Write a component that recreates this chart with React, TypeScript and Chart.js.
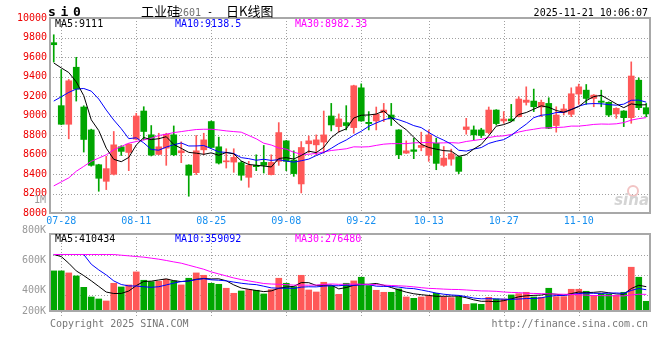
import React, { useEffect, useRef } from 'react';
import { Chart, registerables } from 'chart.js';

Chart.register(...registerables);

// ---------------- data ----------------
const DATES = [
  '07-25', '07-28', '07-29', '07-30', '07-31', '08-01', '08-04', '08-05', '08-06', '08-07',
  '08-08', '08-11', '08-12', '08-13', '08-14', '08-15', '08-18', '08-19', '08-20', '08-21',
  '08-22', '08-25', '08-26', '08-27', '08-28', '08-29', '09-01', '09-02', '09-03', '09-04',
  '09-05', '09-08', '09-09', '09-10', '09-11', '09-12', '09-15', '09-16', '09-17', '09-18',
  '09-19', '09-22', '09-23', '09-24', '09-25', '09-26', '09-29', '09-30', '10-09', '10-10',
  '10-13', '10-14', '10-15', '10-16', '10-17', '10-20', '10-21', '10-22', '10-23', '10-24',
  '10-27', '10-28', '10-29', '10-30', '10-31', '11-03', '11-04', '11-05', '11-06', '11-07',
  '11-10', '11-11', '11-12', '11-13', '11-14', '11-17', '11-18', '11-19', '11-20', '11-21',
];
const TICK_DATES = ['07-28', '08-11', '08-25', '09-08', '09-22', '10-13', '10-27', '11-10'];

const OPEN = [
  9747, 9101, 8910, 9495, 9087, 8852, 8495, 8325, 8397, 8679,
  8621, 8757, 9046, 8802, 8601, 8665, 8802, 8618, 8492, 8414,
  8648, 8938, 8679, 8525, 8522, 8516, 8366, 8489, 8519, 8393,
  8530, 8740, 8543, 8298, 8710, 8699, 8727, 8995, 8886, 8927,
  8876, 9284, 8930, 8944, 9029, 9005, 8852, 8614, 8648, 8672,
  8591, 8716, 8489, 8553, 8577, 8856, 8852, 8852, 8825, 9056,
  8944, 8964, 8988, 9135, 9148, 9087, 9124, 8897, 9033, 9012,
  9220, 9260, 9175, 9148, 9135, 9016, 9046, 8978, 9362, 9080,
];
const HIGH = [
  9828, 9471, 9370, 9597, 9100, 8860, 8500, 8581, 8836, 8690,
  8712, 9022, 9090, 8897, 8818, 8818, 8893, 8730, 8495, 8795,
  8818, 8944, 8778, 8659, 8659, 8530, 8530, 8597, 8693, 8597,
  8927, 8745, 8638, 8733, 8790, 8801, 9046, 9124, 9016, 9101,
  9311, 9325, 9040, 9087, 9124, 9124, 8855, 8740, 8767, 8829,
  8852, 8767, 8682, 8655, 8580, 8971, 8893, 8869, 9087, 9060,
  9040, 9114, 9192, 9294, 9271, 9158, 9182, 9090, 9114, 9284,
  9322, 9318, 9215, 9260, 9140, 9080, 9050, 9550, 9386, 9124,
];
const LOW = [
  9549, 8905, 8761, 9148, 8625, 8480, 8223, 8240, 8390, 8590,
  8434, 8750, 8750, 8585, 8597, 8489, 8587, 8516, 8172, 8393,
  8597, 8665, 8502, 8461, 8417, 8336, 8264, 8434, 8410, 8390,
  8489, 8434, 8376, 8206, 8618, 8597, 8614, 8842, 8829, 8852,
  8818, 8940, 8852, 8852, 8937, 8897, 8557, 8610, 8557, 8638,
  8530, 8444, 8478, 8489, 8404, 8808, 8750, 8774, 8812, 8903,
  8920, 8940, 8985, 9107, 9040, 8988, 8865, 8829, 9005, 8988,
  9114, 9114, 9090, 9090, 8988, 8971, 8886, 8920, 9060, 8988,
];
const CLOSE = [
  9726, 8910, 9356, 9271, 8754, 8489, 8356, 8455, 8699, 8632,
  8706, 8995, 8836, 8594, 8679, 8808, 8597, 8638, 8387, 8638,
  8750, 8672, 8512, 8530, 8570, 8387, 8489, 8475, 8489, 8519,
  8825, 8530, 8404, 8672, 8740, 8750, 8801, 8903, 8965, 8897,
  9305, 8944, 8917, 9012, 9056, 8965, 8597, 8638, 8632, 8693,
  8801, 8509, 8563, 8608, 8427, 8883, 8801, 8795, 9056, 8917,
  8964, 8944, 9169, 9158, 9090, 9135, 8869, 9005, 9067, 9223,
  9294, 9175, 9209, 9135, 9005, 9073, 8978, 9405, 9080, 9016,
];
const VOLUME = [
  677000, 677000, 643000, 592000, 400000, 237000, 203000, 169000, 468000, 406000,
  440000, 660000, 519000, 496000, 502000, 536000, 508000, 440000, 553000, 643000,
  603000, 468000, 451000, 384000, 299000, 338000, 361000, 350000, 288000, 361000,
  553000, 468000, 412000, 603000, 355000, 321000, 485000, 423000, 282000, 468000,
  508000, 570000, 429000, 350000, 316000, 316000, 372000, 237000, 214000, 237000,
  254000, 299000, 237000, 226000, 243000, 113000, 124000, 113000, 231000, 203000,
  203000, 271000, 293000, 316000, 237000, 231000, 384000, 243000, 243000, 367000,
  367000, 333000, 265000, 293000, 282000, 265000, 316000, 739000, 570000, 164000,
];

// moving-average values visible before enough in-window history exists
const MA5_HEAD = [9539, 9488, 9441, 9345];
const MA10_HEAD = [9148, 9192, 9237, 9271, 9277, 9250, 9169, 9056, 8954];
const MA30_HEAD = [
  8278, 8319, 8360, 8428, 8478, 8530, 8563, 8597, 8648, 8682,
  8716, 8733, 8750, 8767, 8795, 8808, 8825, 8835, 8846, 8856,
  8859, 8859, 8852, 8842, 8835, 8829, 8795, 8761, 8716,
];
const VMA5_HEAD = [954000, 919000, 806000, 677000];
const VMA10_HEAD = [954000, 954000, 954000, 954000, 954000, 790000, 694000, 609000, 508000];
const VMA30_HEAD = [
  954000, 954000, 954000, 954000, 954000, 954000, 954000, 954000, 954000, 942000,
  931000, 920000, 909000, 892000, 875000, 853000, 829000, 807000, 773000, 739000,
  705000, 660000, 626000, 592000, 558000, 531000, 508000, 486000, 464000,
];

const PRICE_MIN = 8000;
const PRICE_MAX = 10000;
const PRICE_STEP = 200;
const VOL_MAX = 1300000;
const VOL_GRID = [270000, 605000, 940000];
const VOL_AXIS_VALUES = [1000000, 800000, 600000, 400000, 200000];
const VOL_AXIS_LABELS = ['1M', '800K', '600K', '400K', '200K'];
const VOL_AXIS_RANGE = [260000, 773333];

const PRICE_MA_TEXT = ['MA5:9111', 'MA10:9138.5', 'MA30:8982.33'];
const VOL_MA_TEXT = ['MA5:410434', 'MA10:359092', 'MA30:276480'];
const TITLE_SYMBOL = ['s', 'i', '0'];
const TITLE_NAME = '工业硅';
const TITLE_CODE = '2601';
const TITLE_DASH = '-';
const TITLE_KIND = '日K线图';
const TIMESTAMP = '2025-11-21 10:06:07';
const COPYRIGHT = 'Copyright 2025 SINA.COM';
const URL_TEXT = 'http://finance.sina.com.cn';

// ---------------- style ----------------
const MONO = '"DejaVu Sans Mono", "Liberation Mono", monospace';
const CJK = '"Noto Sans CJK SC", "Noto Sans", sans-serif';
const RED = '#ff5858';
const GREEN = '#00a600';
const MA_COLORS = ['#000000', '#0000ff', '#ff00ff'];
const GRID = '#a0a0a0';
const FRAME = '#a8a8a8';
const DATE_COLOR = '#1890f0';

function movingAvg(values: number[], n: number, head: number[]) {
  return values.map((_, i) => {
    if (i < head.length) return head[i];
    let s = 0;
    for (let k = i - n + 1; k <= i; k++) s += values[k];
    return s / n;
  });
}

const TICK_SET = new Set(TICK_DATES);
const candleColors = CLOSE.map((c, i) => (c >= OPEN[i] ? RED : GREEN));

// dotted grid drawn from the scales' own tick positions
function drawDottedGrid(chart: any, yValues: number[], extendBottom: number) {
  const { ctx, chartArea: a } = chart;
  const xs = chart.scales.x;
  const ys = chart.scales.y;
  ctx.save();
  ctx.strokeStyle = GRID;
  ctx.lineWidth = 1;
  ctx.setLineDash([1, 2]);
  yValues.forEach((v) => {
    const y = Math.round(ys.getPixelForValue(v)) + 0.5;
    ctx.beginPath();
    ctx.moveTo(a.left, y);
    ctx.lineTo(a.right, y);
    ctx.stroke();
  });
  DATES.forEach((d, i) => {
    if (!TICK_SET.has(d)) return;
    const x = Math.round(xs.getPixelForValue(i)) + 0.5;
    ctx.beginPath();
    ctx.moveTo(x, a.top);
    ctx.lineTo(x, a.bottom + extendBottom);
    ctx.stroke();
  });
  ctx.restore();
}

function xScale(showLabels: boolean, height: number) {
  return {
    offset: true,
    grid: { display: false, drawTicks: false },
    border: { display: false },
    ticks: {
      display: showLabels,
      autoSkip: false,
      maxRotation: 0,
      minRotation: 0,
      padding: 2,
      color: DATE_COLOR,
      font: { family: MONO, size: 10 },
      callback: (v: any) => (TICK_SET.has(DATES[v]) ? DATES[v] : ''),
    },
    afterFit: (s: any) => {
      s.height = height;
    },
  };
}

function lineDs(data: number[], color: string) {
  return {
    type: 'line' as const,
    data,
    borderColor: color,
    backgroundColor: color,
    borderWidth: 1,
    pointRadius: 0,
    tension: 0,
    fill: false,
    order: 0,
  };
}

export default function App() {
  const priceRef = useRef<HTMLCanvasElement | null>(null);
  const volRef = useRef<HTMLCanvasElement | null>(null);

  useEffect(() => {
    const ma5 = movingAvg(CLOSE, 5, MA5_HEAD);
    const ma10 = movingAvg(CLOSE, 10, MA10_HEAD);
    const ma30 = movingAvg(CLOSE, 30, MA30_HEAD);
    const vma5 = movingAvg(VOLUME, 5, VMA5_HEAD);
    const vma10 = movingAvg(VOLUME, 10, VMA10_HEAD);
    const vma30 = movingAvg(VOLUME, 30, VMA30_HEAD);

    const bodies = OPEN.map((o, i) => [Math.min(o, CLOSE[i]), Math.max(o, CLOSE[i])]);
    const wicks = LOW.map((l, i) => [l, HIGH[i]]);

    const priceDecor = {
      id: 'priceDecor',
      beforeDatasetsDraw(chart: any) {
        const { ctx, chartArea: a } = chart;
        const yTicks = chart.scales.y.ticks.map((t: any) => t.value);
        drawDottedGrid(chart, yTicks, 0);
        ctx.save();
        // sina watermark
        ctx.strokeStyle = '#f2c4c4';
        ctx.lineWidth = 2;
        ctx.beginPath();
        ctx.arc(a.right - 17, a.bottom - 22, 5, 0, Math.PI * 2);
        ctx.stroke();
        ctx.fillStyle = '#d4d4d4';
        ctx.font = 'italic bold 15px "DejaVu Sans", sans-serif';
        ctx.textAlign = 'right';
        ctx.textBaseline = 'alphabetic';
        ctx.fillText('sina', a.right - 1, a.bottom - 8);
        ctx.restore();
      },
      afterDraw(chart: any) {
        const { ctx, chartArea: a } = chart;
        ctx.save();
        ctx.strokeStyle = FRAME;
        ctx.lineWidth = 2;
        ctx.strokeRect(a.left, a.top, a.right - a.left, a.bottom - a.top);

        ctx.font = `10px ${MONO}`;
        ctx.textBaseline = 'middle';
        ctx.textAlign = 'left';
        PRICE_MA_TEXT.forEach((t, k) => {
          ctx.fillStyle = MA_COLORS[k];
          ctx.fillText(t, a.left + 5 + k * 120, a.top + 6);
        });

        ctx.textBaseline = 'alphabetic';
        ctx.fillStyle = '#000';
        ctx.font = `bold 13px ${MONO}`;
        TITLE_SYMBOL.forEach((ch, k) => {
          ctx.fillText(ch, 48 + k * 12.5, 16);
        });

        ctx.font = `13px ${CJK}`;
        ctx.fillText(TITLE_NAME, 141, 16);
        ctx.fillStyle = '#707070';
        ctx.font = `10px ${MONO}`;
        ctx.fillText(TITLE_CODE, 177, 16);
        ctx.fillStyle = '#000';
        ctx.fillText(TITLE_DASH, 207, 15);
        ctx.font = `13px ${CJK}`;
        ctx.fillText(TITLE_KIND, 226, 16);

        ctx.font = `10px ${MONO}`;
        ctx.textAlign = 'right';
        ctx.fillText(TIMESTAMP, 648, 16);
        ctx.restore();
      },
    };

    const volDecor = {
      id: 'volDecor',
      beforeDatasetsDraw(chart: any) {
        drawDottedGrid(chart, VOL_GRID, 7);
      },
      afterDraw(chart: any) {
        const { ctx, chartArea: a } = chart;
        const yl = chart.scales.yl;
        ctx.save();
        ctx.strokeStyle = FRAME;
        ctx.lineWidth = 2;
        ctx.strokeRect(a.left, a.top, a.right - a.left, a.bottom - a.top);

        ctx.font = `10px ${MONO}`;
        ctx.textBaseline = 'middle';
        ctx.textAlign = 'left';
        VOL_MA_TEXT.forEach((t, k) => {
          ctx.fillStyle = MA_COLORS[k];
          ctx.fillText(t, a.left + 5 + k * 120, a.top + 5);
        });

        ctx.fillStyle = '#999999';
        ctx.textAlign = 'right';
        VOL_AXIS_VALUES.forEach((v, k) => {
          const y = Math.min(yl.getPixelForValue(v), a.bottom);
          ctx.fillText(VOL_AXIS_LABELS[k], a.left - 4, y);
        });

        ctx.fillStyle = '#777777';
        ctx.textAlign = 'left';
        ctx.fillText(COPYRIGHT, a.left, a.bottom + 13);
        ctx.textAlign = 'right';
        ctx.fillText(URL_TEXT, a.right - 2, a.bottom + 13);
        ctx.restore();
      },
    };

    const priceChart = new Chart(priceRef.current as HTMLCanvasElement, {
      type: 'bar',
      data: {
        labels: DATES,
        datasets: [
          lineDs(ma5, MA_COLORS[0]),
          lineDs(ma10, MA_COLORS[1]),
          lineDs(ma30, MA_COLORS[2]),
          {
            type: 'bar',
            data: bodies as any,
            backgroundColor: candleColors,
            barThickness: 6,
            grouped: false,
            minBarLength: 1,
            order: 1,
          } as any,
          {
            type: 'bar',
            data: wicks as any,
            backgroundColor: candleColors,
            barThickness: 1,
            grouped: false,
            order: 2,
          } as any,
        ],
      },
      options: {
        animation: false,
        responsive: false,
        maintainAspectRatio: false,
        events: [],
        layout: { padding: { top: 18, right: 10, left: 0, bottom: 0 } },
        plugins: { legend: { display: false }, tooltip: { enabled: false } },
        scales: {
          x: xScale(true, 19) as any,
          y: {
            min: PRICE_MIN,
            max: PRICE_MAX,
            ticks: {
              stepSize: PRICE_STEP,
              color: '#ee0000',
              padding: 3,
              font: { family: MONO, size: 10 },
              callback: (v: any) => String(v),
            },
            grid: { display: false, drawTicks: false },
            border: { display: false },
            afterFit: (s: any) => {
              s.width = 50;
            },
          } as any,
        },
      },
      plugins: [priceDecor],
    });

    const volChart = new Chart(volRef.current as HTMLCanvasElement, {
      type: 'bar',
      data: {
        labels: DATES,
        datasets: [
          lineDs(vma30, MA_COLORS[2]),
          lineDs(vma10, MA_COLORS[1]),
          lineDs(vma5, MA_COLORS[0]),
          {
            type: 'bar',
            data: VOLUME,
            backgroundColor: candleColors,
            barThickness: 6,
            grouped: false,
            order: 1,
          } as any,
        ],
      },
      options: {
        animation: false,
        responsive: false,
        maintainAspectRatio: false,
        events: [],
        layout: { padding: { top: 44, right: 10, left: 0, bottom: 0 } },
        plugins: { legend: { display: false }, tooltip: { enabled: false } },
        scales: {
          x: xScale(false, 49) as any,
          y: {
            min: 0,
            max: VOL_MAX,
            ticks: { display: false },
            grid: { display: false, drawTicks: false },
            border: { display: false },
            afterFit: (s: any) => {
              s.width = 50;
            },
          } as any,
          yl: {
            display: false,
            min: VOL_AXIS_RANGE[0],
            max: VOL_AXIS_RANGE[1],
          } as any,
        },
      },
      plugins: [volDecor],
    });

    return () => {
      priceChart.destroy();
      volChart.destroy();
    };
  }, []);

  return (
    <div style={{ position: 'absolute', left: 0, top: 0, width: 660, height: 360, background: '#fff' }}>
      <canvas
        ref={priceRef}
        width={660}
        height={232}
        style={{ position: 'absolute', left: 0, top: 0, width: 660, height: 232, display: 'block' }}
      />
      <canvas
        ref={volRef}
        width={660}
        height={170}
        style={{ position: 'absolute', left: 0, top: 190, width: 660, height: 170, display: 'block' }}
      />
    </div>
  );
}
